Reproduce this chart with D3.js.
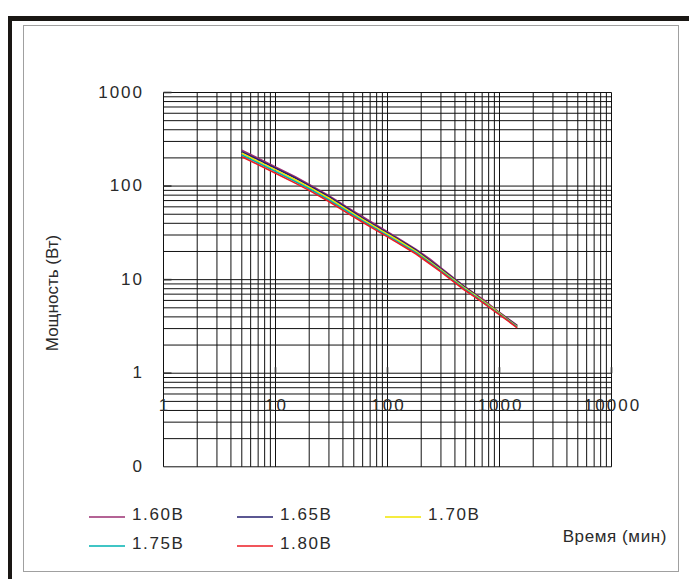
<!DOCTYPE html>
<html lang="ru">
    <head>
        <meta charset="UTF-8" />
        <title>Мощность / время разряда</title>
        <script src="https://cdn.jsdelivr.net/npm/d3@7"></script>
        <style>
            body { margin: 0; background: #fff; }
            text { font-family: "Liberation Sans", Arial, sans-serif; fill: #2a2a2a; }
        </style>
    </head>
    <body>
        <div class="main_div"></div>
        <script>
            // время разряда, мин
            const times = [5, 10, 15, 20, 30, 45, 60, 90, 120, 180, 240, 300, 480, 600, 720, 900, 1200, 1440];
            const seriesNames = ["1.60В", "1.65В", "1.70В", "1.75В", "1.80В"];
            const seriesColors = ["#9b2f72", "#241f6e", "#f2e600", "#00b2b2", "#ec1c24"];
            // мощность, Вт
            const p160 = [242, 160, 126, 104, 79, 58, 47, 35, 28.5, 21, 16.6, 13.4, 8.6, 7.1, 6.1, 4.9, 3.8, 3.25];
            const p165 = [233, 155, 122, 101, 77, 56.5, 45.5, 34, 27.8, 20.6, 16.0, 13.0, 8.45, 7.0, 5.9, 4.85, 3.75, 3.2];
            const p170 = [224, 149, 117, 97, 74, 54.5, 44, 33, 27, 20, 15.5, 12.7, 8.25, 6.85, 5.85, 4.8, 3.7, 3.15];
            const p175 = [215, 143, 112, 93.5, 71, 52.5, 42.5, 31.8, 26, 19.4, 15.1, 12.4, 8.05, 6.7, 5.7, 4.7, 3.65, 3.1];
            const p180 = [206, 137, 107.5, 90, 68.5, 50.5, 41, 30.8, 25.2, 18.8, 14.7, 12.1, 7.85, 6.55, 5.6, 4.62, 3.6, 3.06];
            const xTicks = [1, 10, 100, 1000, 10000];
            const xTickLabels = ["1", "10", "100", "1000", "10000"];
            const yTicks = [0.1, 1, 10, 100, 1000];
            const yTickLabels = ["0", "1", "10", "100", "1000"];

            const allSeries = [p160, p165, p170, p175, p180];

            let width = 689;
            let height = 579;

            const xScale = d3.scaleLog([1, 10000], [163.5, 611.5]);
            const yScale = d3.scaleLog([0.1, 1000], [466.8, 92.5]);

            const svg = d3.select(".main_div")
                          .append("svg")
                          .attr("width", width)
                          .attr("height", height);

            // рамка
            svg.append("rect").attr("x", 8).attr("y", 16).attr("width", 681).attr("height", 5).attr("fill", "#1a1714");
            svg.append("rect").attr("x", 8).attr("y", 16).attr("width", 4).attr("height", 563).attr("fill", "#1a1714");
            svg.append("rect")
               .attr("x", 23.5).attr("y", 25.5)
               .attr("width", 655).attr("height", 546)
               .attr("fill", "none")
               .attr("stroke", "#a0a0a0")
               .attr("stroke-width", 1);

            // сетка
            let gridX = [];
            for (let k = 0; k < 4; k++) for (let m = 1; m < 10; m++) gridX.push(m * Math.pow(10, k));
            gridX.push(10000);
            let gridY = [];
            for (let k = -1; k < 3; k++) for (let m = 1; m < 10; m++) gridY.push(m * Math.pow(10, k));
            gridY.push(1000);

            const plotL = xScale.range()[0], plotR = xScale.range()[1];
            const plotT = yScale.range()[1], plotB = yScale.range()[0];

            svg.append("g").selectAll("line")
               .data(gridX).enter().append("line")
               .attr("x1", d => xScale(d)).attr("x2", d => xScale(d))
               .attr("y1", plotT).attr("y2", plotB)
               .attr("stroke", "#111").attr("stroke-width", 1);

            svg.append("g").selectAll("line")
               .data(gridY).enter().append("line")
               .attr("y1", d => yScale(d)).attr("y2", d => yScale(d))
               .attr("x1", plotL).attr("x2", plotR)
               .attr("stroke", "#111").attr("stroke-width", 1);

            // метки осей
            svg.append("g").selectAll("line")
               .data(yTicks.slice(1)).enter().append("line")
               .attr("x1", plotL).attr("x2", plotL + 8)
               .attr("y1", d => yScale(d)).attr("y2", d => yScale(d))
               .attr("stroke", "#333").attr("stroke-width", 1.6);
            svg.append("g").selectAll("line")
               .data(xTicks.slice(1)).enter().append("line")
               .attr("x1", d => xScale(d)).attr("x2", d => xScale(d))
               .attr("y1", yScale(1)).attr("y2", yScale(1) - 6)
               .attr("stroke", "#333").attr("stroke-width", 1.6);

            svg.append("g").selectAll("text")
               .data(yTicks).enter().append("text")
               .attr("x", 144)
               .attr("y", d => yScale(d) + 5)
               .attr("text-anchor", "end")
               .style("font-size", "17px")
               .style("letter-spacing", "2px")
               .text((d, i) => yTickLabels[i]);

            svg.append("g").selectAll("text")
               .data(xTicks).enter().append("text")
               .attr("x", d => xScale(d) + 1)
               .attr("y", 411)
               .attr("text-anchor", "middle")
               .style("font-size", "17px")
               .style("letter-spacing", "2px")
               .text((d, i) => xTickLabels[i]);

            // кривые
            const line = d3.line()
                           .x((d, i) => xScale(times[i]))
                           .y(d => yScale(d));

            svg.append("g").selectAll("path")
               .data(allSeries).enter().append("path")
               .attr("d", d => line(d))
               .attr("fill", "none")
               .attr("stroke", (d, i) => seriesColors[i])
               .attr("stroke-width", 1.6);

            // подписи осей
            svg.append("text")
               .attr("transform", "translate(57.5,293) rotate(-90)")
               .attr("text-anchor", "middle")
               .style("font-size", "17px")
               .text("Мощность (Вт)");

            svg.append("text")
               .attr("x", 667).attr("y", 542)
               .attr("text-anchor", "end")
               .style("font-size", "17px")
               .style("letter-spacing", "0.6px")
               .text("Время (мин)");

            // легенда
            const legendPos = [[89, 517], [237, 517], [385, 517], [89, 546], [237, 546]];
            const legend = svg.append("g").selectAll("g")
                              .data(seriesNames).enter().append("g")
                              .attr("transform", (d, i) => "translate(" + legendPos[i][0] + "," + legendPos[i][1] + ")");
            legend.append("line")
                  .attr("x1", 0).attr("x2", 36)
                  .attr("y1", 0).attr("y2", 0)
                  .attr("stroke", (d, i) => seriesColors[i])
                  .attr("stroke-width", 1.5);
            legend.append("text")
                  .attr("x", 43).attr("y", 2.5)
                  .style("font-size", "17px")
                  .style("letter-spacing", "1.6px")
                  .text(d => d);
        </script>
    </body>
</html>
